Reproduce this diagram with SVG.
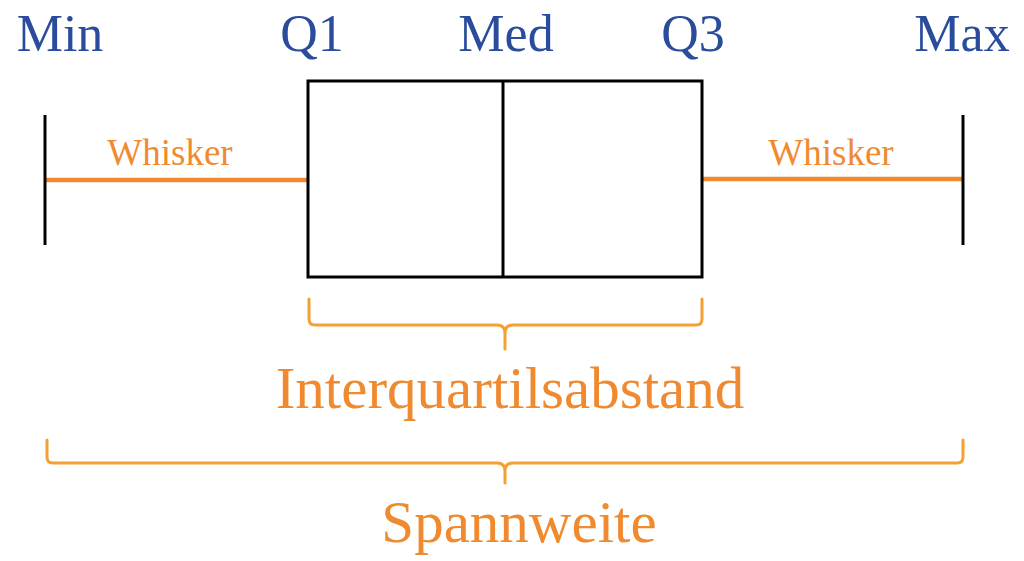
<svg xmlns="http://www.w3.org/2000/svg" width="1024" height="561" viewBox="0 0 1024 561">
<style>
.lbl{font-family:"Liberation Serif","Times New Roman",serif;fill:#2A4C9C;font-size:52px;text-anchor:middle}
.org{font-family:"Liberation Serif","Times New Roman",serif;fill:#F08A30;text-anchor:middle}
.brace{fill:none;stroke:#F4A032;stroke-width:3;stroke-linecap:round;stroke-linejoin:round}
.blk{stroke:#000;stroke-width:3;fill:none}
.wh{stroke:#F08A30;stroke-width:4.5}
</style>
<rect width="1024" height="561" fill="#fff"/>
<g id="labels">
<text class="lbl" x="60" y="51">Min</text>
<text class="lbl" x="312" y="51">Q1</text>
<text class="lbl" x="506" y="51">Med</text>
<text class="lbl" x="693" y="51">Q3</text>
<text class="lbl" x="962" y="51">Max</text>
</g>
<g id="connectors">
<line class="wh" x1="46" y1="180" x2="307" y2="180"/>
<line class="wh" x1="702" y1="179" x2="962" y2="179"/>
</g>
<g id="min-fence"><line class="blk" x1="45" y1="115" x2="45" y2="245"/></g>
<g id="max-fence"><line class="blk" x1="963" y1="115" x2="963" y2="245"/></g>
<g id="box">
<rect class="blk" x="308" y="81" width="394" height="196"/>
<line class="blk" x1="503" y1="81" x2="503" y2="277"/>
</g>
<g id="whisker-labels">
<text class="org" x="170" y="165" font-size="37">Whisker</text>
<text class="org" x="831" y="165" font-size="37">Whisker</text>
</g>
<g id="iqr">
<path class="brace" d="M309 299 V319 Q309 325 315 325 H497 Q505 325 505 333 V349 M505 333 Q505 325 513 325 H696 Q702 325 702 319 V299"/>
<text class="org" x="510" y="408" font-size="59">Interquartilsabstand</text>
</g>
<g id="range">
<path class="brace" d="M47 440 V457 Q47 463 53 463 H497 Q505 463 505 471 V483 M505 471 Q505 463 513 463 H957 Q963 463 963 457 V440"/>
<text class="org" x="519" y="542" font-size="59">Spannweite</text>
</g>
</svg>
